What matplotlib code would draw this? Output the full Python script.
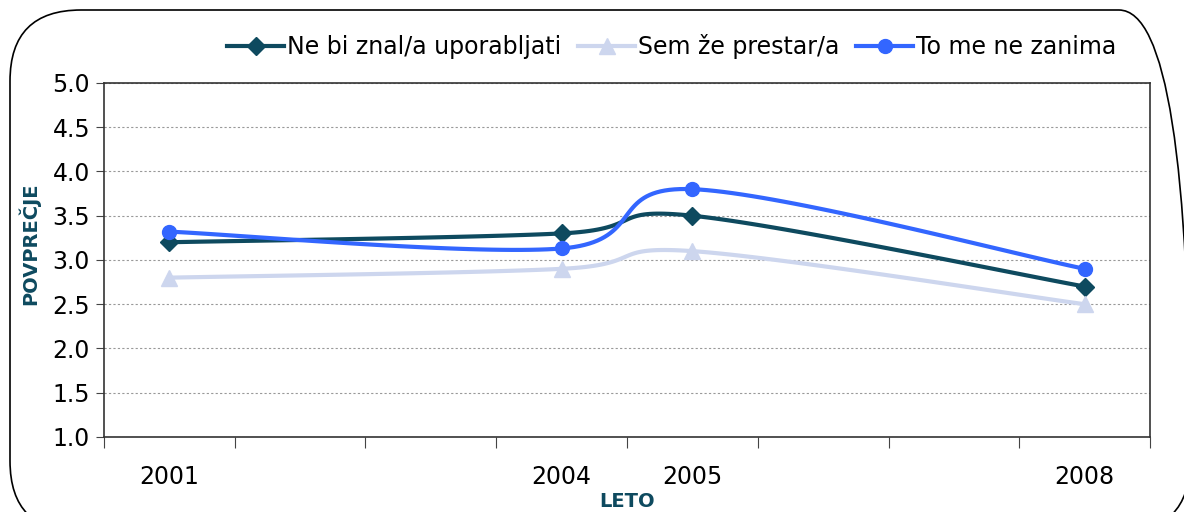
import numpy as np
import matplotlib.pyplot as plt
from matplotlib.patches import FancyBboxPatch

# data
years = [2001, 2004, 2005, 2008]
ne_bi_znal = [3.2, 3.3, 3.5, 2.7]
sem_ze_prestar = [2.8, 2.9, 3.1, 2.5]
ne_zanima = [3.32, 3.13, 3.8, 2.9]

series_names = ["Ne bi znal/a uporabljati", "Sem že prestar/a", "To me ne zanima"]
colors = ["#0E4A5F", "#CDD6EE", "#3366FF"]
markers = ["D", "^", "o"]
msizes = [9, 12, 10]


def smooth(x, y, n=40):
    # catmull-rom style bezier through the points (like excel's smoothed line)
    x = np.asarray(x, float)
    y = np.asarray(y, float)
    px = np.concatenate([[x[0]], x, [x[-1]]])
    py = np.concatenate([[y[0]], y, [y[-1]]])
    xs, ys = [], []
    t = np.linspace(0, 1, n)
    for i in range(1, len(px) - 2):
        p0 = np.array([px[i - 1], py[i - 1]])
        p1 = np.array([px[i], py[i]])
        p2 = np.array([px[i + 1], py[i + 1]])
        p3 = np.array([px[i + 2], py[i + 2]])
        c1 = p1 + (p2 - p0) / 6
        c2 = p2 - (p3 - p1) / 6
        b = ((1 - t) ** 3)[:, None] * p1 + (3 * (1 - t) ** 2 * t)[:, None] * c1 \
            + (3 * (1 - t) * t ** 2)[:, None] * c2 + (t ** 3)[:, None] * p2
        xs.extend(b[:, 0])
        ys.extend(b[:, 1])
    return xs, ys


fig = plt.figure(figsize=(11.84, 5.12), dpi=100)
ax = fig.add_axes([0.0878, 0.1465, 0.8835, 0.6915])

# rounded frame around the whole chart
frame = FancyBboxPatch((10 / 1184, -20 / 512), 1180 / 1184, 522 / 512,
                       boxstyle="round,pad=0,rounding_size=0.06",
                       transform=fig.transFigure, fill=False,
                       edgecolor="black", linewidth=1.2, mutation_aspect=1184 / 512)
fig.patches.append(frame)

for vals, name, c, m, ms in zip([ne_bi_znal, sem_ze_prestar, ne_zanima],
                                series_names, colors, markers, msizes):
    sx, sy = smooth(years, vals)
    ax.plot(sx, sy, color=c, linewidth=3, solid_capstyle="round", zorder=3)
    ax.plot(years, vals, linestyle="none", marker=m, markersize=ms,
            color=c, zorder=4)
    ax.plot([], [], color=c, linewidth=3, marker=m, markersize=ms, label=name)

ax.set_xlim(2000.5, 2008.5)
ax.set_ylim(1.0, 5.0)
ax.set_yticks(np.arange(1.0, 5.01, 0.5))
ax.set_yticklabels([f"{v:.1f}" for v in np.arange(1.0, 5.01, 0.5)], fontsize=17)
ax.set_xticks(np.arange(2000.5, 2008.6, 1.0))
ax.set_xticklabels([])
ax.set_xticks(years, minor=True)
ax.set_xticklabels([str(y) for y in years], minor=True, fontsize=17)
ax.tick_params(axis="x", which="major", length=8, color="#444444")
ax.tick_params(axis="x", which="minor", length=0, pad=20)
ax.tick_params(axis="y", length=6, color="#444444", pad=4)
ax.yaxis.grid(True, linestyle=(0, (2, 2)), color="#999999", linewidth=0.8)
for s in ax.spines.values():
    s.set_color("#333333")
    s.set_linewidth(1.2)

ax.set_ylabel("POVPREČJE", fontsize=14, fontweight="bold", color="#0E4A5F")
ax.yaxis.set_label_coords(-0.061, 0.545)
ax.set_xlabel("LETO", fontsize=14, fontweight="bold", color="#0E4A5F")
ax.xaxis.set_label_coords(0.5, -0.155)

ax.legend(loc="center", bbox_to_anchor=(0.543, 1.102), ncol=3, frameon=False,
          fontsize=17, handlelength=2.4, handletextpad=0.15, columnspacing=0.7,
          borderaxespad=0)

fig.savefig("out.png", dpi=100)
